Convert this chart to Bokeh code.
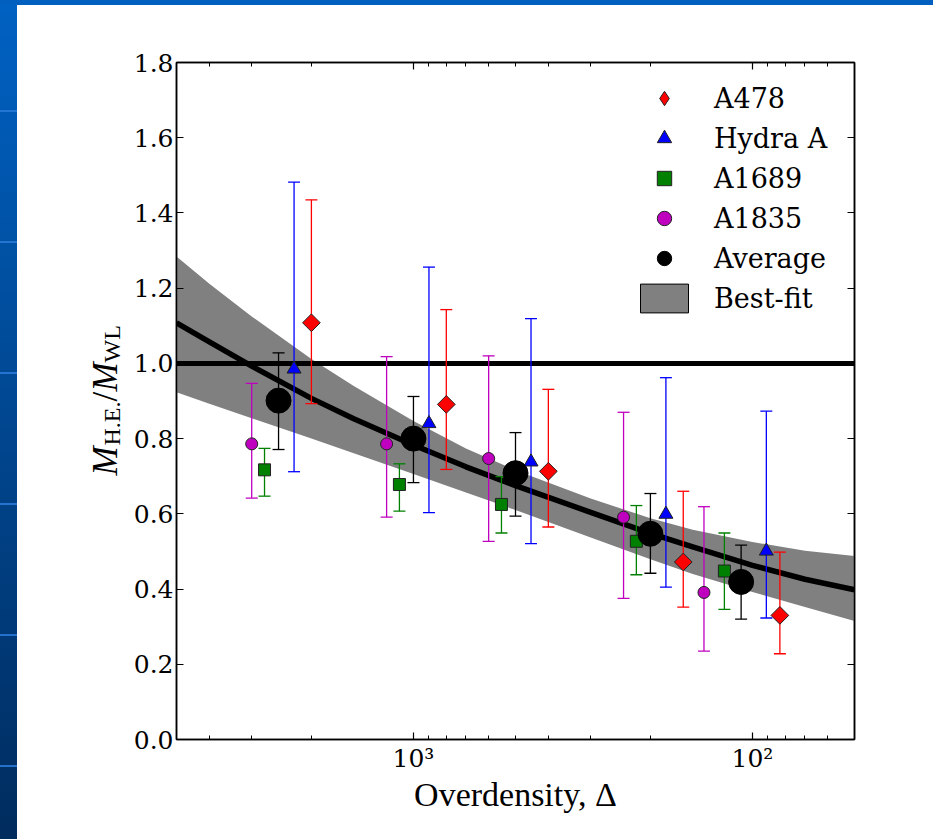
import numpy as np
from bokeh.plotting import figure
from bokeh.models import (Range1d, FixedTicker, LogAxis, LinearAxis, Legend, LegendItem,
                          Label, Spacer, ColumnDataSource, CustomJSTickFormatter,
                          PrintfTickFormatter)
from bokeh.layouts import row, column
from bokeh.embed import file_html
from bokeh.resources import INLINE

# ---------------- data ----------------
a478_x = [2000, 800, 400, 160, 83]
a478_y = [1.108, 0.891, 0.713, 0.472, 0.330]
a478_lo = [0.893, 0.718, 0.565, 0.352, 0.228]
a478_hi = [1.435, 1.143, 0.931, 0.660, 0.498]

hydra_x = [2250, 900, 450, 180, 91]
hydra_y = [0.985, 0.840, 0.738, 0.599, 0.501]
hydra_lo = [0.712, 0.603, 0.521, 0.405, 0.323]
hydra_hi = [1.482, 1.256, 1.119, 0.962, 0.873]

a1689_x = [2750, 1100, 550, 220, 121]
a1689_y = [0.717, 0.678, 0.625, 0.527, 0.448]
a1689_lo = [0.647, 0.607, 0.549, 0.438, 0.346]
a1689_hi = [0.774, 0.733, 0.699, 0.622, 0.549]

a1835_x = [3000, 1200, 600, 240, 139]
a1835_y = [0.786, 0.786, 0.747, 0.591, 0.391]
a1835_lo = [0.642, 0.591, 0.527, 0.375, 0.235]
a1835_hi = [0.947, 1.018, 1.020, 0.870, 0.619]

avg_x = [2500, 1000, 500, 200, 108]
avg_y = [0.901, 0.800, 0.708, 0.547, 0.419]
avg_lo = [0.771, 0.683, 0.594, 0.442, 0.320]
avg_hi = [1.028, 0.912, 0.816, 0.654, 0.517]

fit_delta = [5000, 4000, 3000, 2000, 1500, 1000, 700, 500, 300, 200, 150, 100, 70, 50]
fit_mid = [1.108, 1.057, 0.993, 0.907, 0.853, 0.783, 0.725, 0.675, 0.604, 0.548, 0.512, 0.463, 0.426, 0.398]
fit_lo = [0.923, 0.893, 0.854, 0.800, 0.761, 0.706, 0.657, 0.610, 0.537, 0.479, 0.440, 0.392, 0.352, 0.315]
fit_hi = [1.284, 1.212, 1.125, 1.012, 0.940, 0.847, 0.774, 0.716, 0.641, 0.588, 0.558, 0.525, 0.502, 0.488]

reference_ratio = [1.0]

x_major = [100, 1000]
x_minor = [60, 70, 80, 90, 200, 300, 400, 500, 600, 700, 800, 900, 2000, 3000, 4000]
x_labels = {100: "10\u00b2", 1000: "10\u00b3"}
y_ticks = [0.0, 0.2, 0.4, 0.6, 0.8, 1.0, 1.2, 1.4, 1.6, 1.8]

# ---------------- main figure ----------------
p = figure(width=803, height=834, x_axis_type="log",
           x_range=Range1d(5000, 50), y_range=Range1d(0, 1.8),
           output_backend="svg", toolbar_location=None,
           min_border_left=45, min_border_right=79,
           min_border_top=57, min_border_bottom=100)
p.grid.visible = False
p.outline_line_color = "black"
p.outline_line_width = 1.5
p.background_fill_color = "white"
p.border_fill_color = "white"

xticker = FixedTicker(ticks=x_major, minor_ticks=x_minor)
yticker = FixedTicker(ticks=y_ticks)
blank = CustomJSTickFormatter(code="return ''")


def style_axis(ax):
    ax.axis_line_color = "black"
    ax.axis_line_width = 1.5
    ax.major_tick_in = 7
    ax.major_tick_out = 0
    ax.minor_tick_in = 4
    ax.minor_tick_out = 0
    ax.major_tick_line_width = 1.2
    ax.minor_tick_line_width = 1.0
    ax.major_tick_line_color = "black"
    ax.minor_tick_line_color = "black"
    ax.major_label_text_font = "DejaVu Serif"
    ax.major_label_text_font_size = "25px"
    ax.major_label_text_color = "black"


xb = p.below[0]
xb.ticker = xticker
xb.major_label_overrides = x_labels
style_axis(xb)
xb.major_label_standoff = 4
xb.axis_label = "Overdensity, \u0394"
xb.axis_label_text_font = "Liberation Serif"
xb.axis_label_text_font_size = "34px"
xb.axis_label_text_font_style = "normal"
xb.axis_label_text_color = "black"
xb.axis_label_standoff = 0

yl = p.left[0]
yl.ticker = yticker
yl.formatter = PrintfTickFormatter(format="%.1f")
style_axis(yl)
yl.major_label_standoff = 3

xt = LogAxis(ticker=xticker, formatter=blank)
style_axis(xt)
p.add_layout(xt, "above")
yr = LinearAxis(ticker=yticker, formatter=blank)
style_axis(yr)
p.add_layout(yr, "right")

# best-fit band and curve
band_src = ColumnDataSource(dict(x=fit_delta, lo=fit_lo, hi=fit_hi, mid=fit_mid))
p.varea(x="x", y1="lo", y2="hi", source=band_src, fill_color="#808080", fill_alpha=1.0)
p.line(x="x", y="mid", source=band_src, line_color="black", line_width=5.5, line_join="round")
p.hspan(y=reference_ratio, line_color="black", line_width=5)


def draw_series(x, y, lo, hi, color, marker, size, angle=0.0, edge="#222222"):
    src = ColumnDataSource(dict(x=x, y=y, lo=lo, hi=hi))
    p.segment(x0="x", y0="lo", x1="x", y1="hi", source=src, line_color=color, line_width=1.3)
    p.scatter(x="x", y="lo", marker="dash", size=12, line_color=color, line_width=1.3, source=src)
    p.scatter(x="x", y="hi", marker="dash", size=12, line_color=color, line_width=1.3, source=src)
    return p.scatter(x="x", y="y", marker=marker, size=size, angle=angle, fill_color=color,
                     line_color=edge, line_width=1.0, source=src)


draw_series(a478_x, a478_y, a478_lo, a478_hi, "#FF0000", "square", 12.5, angle=np.pi / 4)
r_hydra = draw_series(hydra_x, hydra_y, hydra_lo, hydra_hi, "#0000FF", "triangle", 14)
r_1689 = draw_series(a1689_x, a1689_y, a1689_lo, a1689_hi, "#008000", "square", 12)
r_1835 = draw_series(a1835_x, a1835_y, a1835_lo, a1835_hi, "#BF00BF", "circle", 12)
r_avg = draw_series(avg_x, avg_y, avg_lo, avg_hi, "black", "circle", 25, edge="black")

# legend-only glyphs (NaN positions: nothing drawn in the plot area)
leg_a478 = p.scatter(x=[np.nan], y=[np.nan], marker="diamond", size=14,
                     fill_color="#FF0000", line_color="#222222", line_width=1.0)
leg_band = p.quad(left=[np.nan], right=[np.nan], top=[np.nan], bottom=[np.nan],
                  fill_color="#808080", line_color="black", line_width=1.0)

legend = Legend(items=[
    LegendItem(label="A478", renderers=[leg_a478]),
    LegendItem(label="Hydra A", renderers=[r_hydra]),
    LegendItem(label="A1689", renderers=[r_1689]),
    LegendItem(label="A1835", renderers=[r_1835]),
    LegendItem(label="Average", renderers=[r_avg]),
    LegendItem(label="Best-fit", renderers=[leg_band]),
], location=(458, 423), glyph_width=60, glyph_height=36, label_standoff=20,
    spacing=4, padding=0, margin=0, label_height=30,
    label_text_font="DejaVu Serif", label_text_font_size="27px", label_text_color="black",
    border_line_color=None, background_fill_alpha=0)
p.add_layout(legend)

# ---------------- y-axis label panel: M_{H.E.}/M_{WL} ----------------
# (its frame is aligned with the main frame by the row layout)
ylab = figure(width=113, height=834, x_range=Range1d(0, 1), y_range=Range1d(0, 1),
              x_axis_location=None, y_axis_location=None, toolbar_location=None,
              output_backend="svg", min_border=0, outline_line_color=None)
ylab.grid.visible = False
ylab.background_fill_color = "white"
ylab.border_fill_color = "white"

ylabel_parts = [
    ("M", 88, 264, "35px", "italic"),
    ("H.E.", 94, 294, "24px", "normal"),
    ("/", 88, 338, "35px", "normal"),
    ("M", 88, 348, "35px", "italic"),
    ("WL", 94, 377, "24px", "normal"),
]
for txt, lx, ly, fs, st in ylabel_parts:
    ylab.add_layout(Label(x=lx, y=ly, x_units="screen", y_units="screen", text=txt,
                          angle=np.pi / 2, text_font="Liberation Serif", text_font_size=fs,
                          text_font_style=st, text_align="left", text_baseline="alphabetic",
                          text_color="black"))

# ---------------- slide-style blue frame ----------------
top_bar = Spacer(width=933, height=5, styles={"background": "#005FBF"})
left_bar = Spacer(width=17, height=834, styles={
    "background": "repeating-linear-gradient(to bottom, rgba(0,0,0,0) 0px, rgba(0,0,0,0) 105px, "
                  "rgba(40,120,215,0.9) 105px, rgba(40,120,215,0.9) 107px, rgba(0,0,0,0) 107px, "
                  "rgba(0,0,0,0) 131px), linear-gradient(to bottom, #0061C2, #002C5E)"})

layout = column(top_bar, row(left_bar, ylab, p, spacing=0), spacing=0)
open("out.html", "w").write(file_html(layout, INLINE))
